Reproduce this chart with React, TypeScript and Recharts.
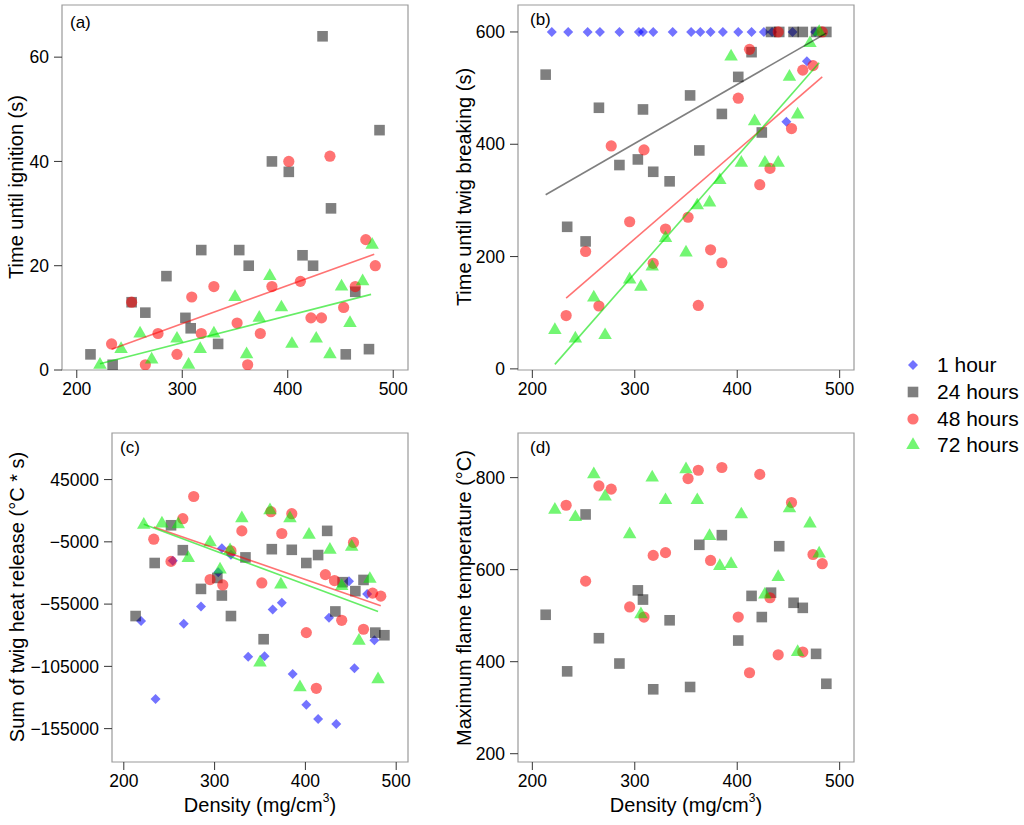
import React from 'react';
import { ScatterChart, Scatter, XAxis, YAxis, ReferenceArea } from 'recharts';

const FONT = '"Liberation Sans", Arial, Helvetica, sans-serif';

// twig density (mg/cm3) for each drying group
const density1h = [219, 235, 254, 266, 285, 304, 308, 318, 337, 355, 364, 374, 386, 401, 414, 426, 434, 448, 454, 468, 476];
const density24h = [213, 234, 252, 265, 285, 303, 308, 318, 334, 354, 363, 385, 401, 414, 424, 433, 441, 455, 464, 477, 487];
const density48h = [233, 252, 265, 277, 295, 309, 318, 330, 352, 362, 374, 385, 401, 412, 422, 432, 440, 453, 464, 474, 483];
const density72h = [222, 242, 260, 271, 295, 306, 317, 330, 350, 361, 373, 383, 394, 404, 417, 427, 440, 451, 459, 471, 480];

// (a) time until ignition (s)
const ignition24h = [3, 1, 13, 11, 18, 10, 8, 23, 5, 23, 20, 40, 38, 22, 20, 64, 31, 3, 15, 4, 46];
const ignition48h = [5, 13, 1, 7, 3, 14, 7, 16, 9, 1, 7, 16, 40, 17, 10, 10, 41, 12, 16, 25, 20];
const ignition72h = [1, 4, 7, 2, 6, 1, 4, 7, 14, 3, 10, 18, 12, 5, null, 6, 3, 16, 9, 17, 24];

// (b) time until twig breaking (s)
const breaking1h = [600, 600, 600, 600, 600, 600, 600, 600, 600, 600, 600, 600, 600, 600, 600, 600, 600, 440, 600, 548, 600];
const breaking24h = [524, 253, 227, 465, 363, 373, 462, 351, 334, 487, 389, 454, 520, 564, 421, 600, 600, 600, 600, 600, 600];
const breaking48h = [95, 209, 112, 397, 262, 390, 188, 249, 270, 113, 212, 189, 482, 569, 328, 357, 600, 428, 532, 540, 600];
const breaking72h = [69, 54, 127, 60, 159, 146, 182, 233, 207, 291, 296, 336, 556, 367, 441, 367, 367, 520, 453, 580, 600];

// (c) sum of twig heat release (°C * s)
const heat1h = [-68600, -131300, -20200, -70700, -56900, -29500, -10100, -15400, -97300, -96800, -59300, -53900, -111100, -135900, -147300, -65900, -151300, -36700, -106600, -46800, -84000];
const heat24h = [-64600, -22000, 8300, -11700, -42800, -34000, -48100, -64600, -17500, -83200, -10900, -11400, -22000, -15600, 3800, -60900, -37400, -44600, -35600, -77900, -80000];
const heat48h = [-2900, -20700, 13600, 31400, -35300, -39600, -12200, 3800, -38000, 19200, 1700, 17600, -77900, -122600, -31300, -36100, -68000, -5500, -75200, -46200, -48600];
const heat72h = [8600, 9600, 9100, -18000, -5500, -27300, -11700, 13900, -102000, 20300, -39300, 13900, -121800, 600, null, -11400, -40600, -9000, -84500, -34800, -115400];

// (d) maximum flame temperature (°C)
const flame24h = [502, 379, 720, 451, 396, 555, 535, 340, 490, 345, 654, 675, 446, 543, 497, 550, 651, 528, 517, 417, 352];
const flame48h = [740, 575, 782, 775, 519, 497, 631, 637, 798, 816, 620, 822, 497, 376, 807, 539, 415, 746, 421, 633, 613];
const flame72h = [730, 714, 807, 759, 677, 503, 800, 751, 818, 751, 673, 608, 612, 720, null, 546, 584, 733, 421, 700, 635];

// fitted lines as drawn in the figure: [density, value] at both ends
const fitIgnition48h = [[233, 4.0], [482, 22.2]];
const fitIgnition72h = [[222, 1.2], [479, 14.5]];
const fitBreaking24h = [[213, 310], [487, 598]];
const fitBreaking48h = [[233, 126], [483, 520]];
const fitBreaking72h = [[222, 8], [480, 545]];
const fitHeat48h = [[233, 7000], [483, -56300]];
const fitHeat72h = [[222, 9100], [480, -61000]];

const densityTicks = [200, 300, 400, 500];
const ignitionTicks = [0, 20, 40, 60];
const breakingTicks = [0, 200, 400, 600];
const heatTicks = [-155000, -105000, -55000, -5000, 45000];
const flameTicks = [200, 400, 600, 800];

type Kind = 'diamond' | 'square' | 'circle' | 'triangle';

const GROUPS: Record<string, { label: string; kind: Kind; color: string; line: string }> = {
  h1: { label: '1 hour', kind: 'diamond', color: 'rgba(0,0,255,0.55)', line: 'rgba(0,0,255,0.55)' },
  h24: { label: '24 hours', kind: 'square', color: 'rgba(0,0,0,0.5)', line: 'rgba(0,0,0,0.5)' },
  h48: { label: '48 hours', kind: 'circle', color: 'rgba(255,0,0,0.55)', line: 'rgba(255,0,0,0.55)' },
  h72: { label: '72 hours', kind: 'triangle', color: 'rgba(0,238,0,0.55)', line: 'rgba(0,225,0,0.6)' },
};

const toPoints = (xs: number[], ys: (number | null)[]) =>
  xs.map((x, i) => ({ x, y: ys[i] })).filter((p) => p.y != null);

const fitPoints = (f: number[][]) => f.map(([x, y]) => ({ x, y }));

const Marker = ({ cx, cy, kind, color }: { cx?: number; cy?: number; kind: Kind; color: string }) => {
  if (cx == null || cy == null) return <g />;
  if (kind === 'diamond') {
    const r = 5;
    return <path d={`M${cx},${cy - r}L${cx + r},${cy}L${cx},${cy + r}L${cx - r},${cy}Z`} fill={color} />;
  }
  if (kind === 'square') {
    const h = 5.3;
    return <rect x={cx - h} y={cy - h} width={2 * h} height={2 * h} fill={color} />;
  }
  if (kind === 'circle') return <circle cx={cx} cy={cy} r={5.6} fill={color} />;
  const r = 7.8;
  return (
    <path
      d={`M${cx},${cy - r}L${cx + r * 0.866},${cy + r / 2}L${cx - r * 0.866},${cy + r / 2}Z`}
      fill={color}
    />
  );
};

const fmt = (v: number) => (v < 0 ? '\u2212' + Math.abs(v) : String(v));

const tickStyle = { fill: '#000', fontSize: 17.5, fontFamily: FONT };

interface PanelProps {
  left: number;
  top: number;
  width: number;
  height: number;
  margin: { top: number; right: number; bottom: number; left: number };
  yWidth: number;
  xHeight: number;
  xDomain: [number, number];
  yDomain: [number, number];
  yTicks: number[];
  series: { group: string; xs: number[]; ys: (number | null)[] }[];
  fits: { group: string; line: number[][] }[];
}

const Panel = ({ left, top, width, height, margin, yWidth, xHeight, xDomain, yDomain, yTicks, series, fits }: PanelProps) => (
  <div style={{ position: 'absolute', left, top }}>
    <ScatterChart width={width} height={height} margin={margin}>
      <XAxis
        type="number"
        dataKey="x"
        domain={xDomain}
        ticks={densityTicks}
        interval={0}
        allowDataOverflow
        height={xHeight}
        tickSize={8}
        tickMargin={5}
        axisLine={false}
        tickLine={{ stroke: '#333' }}
        tick={tickStyle}
      />
      <YAxis
        type="number"
        dataKey="y"
        domain={yDomain}
        ticks={yTicks}
        interval={0}
        allowDataOverflow
        width={yWidth}
        tickSize={8}
        tickMargin={5}
        axisLine={false}
        tickLine={{ stroke: '#333' }}
        tick={tickStyle}
        tickFormatter={fmt}
      />
      <ReferenceArea
        x1={xDomain[0]}
        x2={xDomain[1]}
        y1={yDomain[0]}
        y2={yDomain[1]}
        fill="none"
        fillOpacity={0}
        stroke="#9a9a9a"
        strokeWidth={1.2}
        ifOverflow="visible"
      />
      {series.map((s) => {
        const g = GROUPS[s.group];
        return (
          <Scatter
            key={s.group}
            data={toPoints(s.xs, s.ys)}
            fill={g.color}
            isAnimationActive={false}
            shape={(p: any) => <Marker cx={p.cx} cy={p.cy} kind={g.kind} color={g.color} />}
          />
        );
      })}
      {fits.map((f) => {
        const g = GROUPS[f.group];
        return (
          <Scatter
            key={'fit' + f.group}
            data={fitPoints(f.line)}
            fill={g.line}
            line={{ stroke: g.line, strokeWidth: 1.6 }}
            isAnimationActive={false}
            shape={() => <g />}
          />
        );
      })}
    </ScatterChart>
  </div>
);

const YTitle = ({ x, y, children }: { x: number; y: number; children: React.ReactNode }) => (
  <div
    style={{
      position: 'absolute',
      left: x,
      top: y,
      transform: 'translate(-50%, -50%) rotate(-90deg)',
      whiteSpace: 'nowrap',
      fontSize: 20,
      lineHeight: '22px',
      fontFamily: FONT,
      color: '#000',
    }}
  >
    {children}
  </div>
);

const XTitle = ({ x, y }: { x: number; y: number }) => (
  <div
    style={{
      position: 'absolute',
      left: x,
      top: y,
      transform: 'translate(-50%, -50%)',
      whiteSpace: 'nowrap',
      fontSize: 20,
      lineHeight: '22px',
      fontFamily: FONT,
      color: '#000',
    }}
  >
    Density (mg/cm<span style={{ fontSize: 12, position: 'relative', top: -10 }}>3</span>)
  </div>
);

const Tag = ({ x, y, text }: { x: number; y: number; text: string }) => (
  <div
    style={{
      position: 'absolute',
      left: x,
      top: y,
      transform: 'translateY(-50%)',
      fontSize: 17,
      lineHeight: '19px',
      fontFamily: FONT,
      color: '#000',
    }}
  >
    {text}
  </div>
);

const legendRows = ['h1', 'h24', 'h48', 'h72'];

export default function App() {
  return (
    <div
      style={{
        position: 'absolute',
        left: 0,
        top: 0,
        width: 1024,
        height: 825,
        background: '#fff',
        fontFamily: FONT,
      }}
    >
      <Panel
        left={0}
        top={0}
        width={420}
        height={410}
        margin={{ top: 5, right: 12, bottom: 0, left: 0 }}
        yWidth={62}
        xHeight={40}
        xDomain={[186, 514]}
        yDomain={[0, 70]}
        yTicks={ignitionTicks}
        series={[
          { group: 'h24', xs: density24h, ys: ignition24h },
          { group: 'h48', xs: density48h, ys: ignition48h },
          { group: 'h72', xs: density72h, ys: ignition72h },
        ]}
        fits={[
          { group: 'h48', line: fitIgnition48h },
          { group: 'h72', line: fitIgnition72h },
        ]}
      />
      <Panel
        left={420}
        top={0}
        width={440}
        height={410}
        margin={{ top: 5, right: 6, bottom: 0, left: 0 }}
        yWidth={98}
        xHeight={40}
        xDomain={[186, 514]}
        yDomain={[-2, 648]}
        yTicks={breakingTicks}
        series={[
          { group: 'h1', xs: density1h, ys: breaking1h },
          { group: 'h24', xs: density24h, ys: breaking24h },
          { group: 'h48', xs: density48h, ys: breaking48h },
          { group: 'h72', xs: density72h, ys: breaking72h },
        ]}
        fits={[
          { group: 'h24', line: fitBreaking24h },
          { group: 'h48', line: fitBreaking48h },
          { group: 'h72', line: fitBreaking72h },
        ]}
      />
      <Panel
        left={0}
        top={420}
        width={420}
        height={405}
        margin={{ top: 13, right: 12, bottom: 0, left: 0 }}
        yWidth={112}
        xHeight={63}
        xDomain={[187, 513]}
        yDomain={[-181800, 82400]}
        yTicks={heatTicks}
        series={[
          { group: 'h1', xs: density1h, ys: heat1h },
          { group: 'h24', xs: density24h, ys: heat24h },
          { group: 'h48', xs: density48h, ys: heat48h },
          { group: 'h72', xs: density72h, ys: heat72h },
        ]}
        fits={[
          { group: 'h48', line: fitHeat48h },
          { group: 'h72', line: fitHeat72h },
        ]}
      />
      <Panel
        left={420}
        top={420}
        width={440}
        height={405}
        margin={{ top: 13, right: 6, bottom: 0, left: 0 }}
        yWidth={98}
        xHeight={63}
        xDomain={[186, 514]}
        yDomain={[182, 897]}
        yTicks={flameTicks}
        series={[
          { group: 'h24', xs: density24h, ys: flame24h },
          { group: 'h48', xs: density48h, ys: flame48h },
          { group: 'h72', xs: density72h, ys: flame72h },
        ]}
        fits={[]}
      />

      <YTitle x={16} y={187}>Time until ignition (s)</YTitle>
      <YTitle x={464} y={187}>Time until twig breaking (s)</YTitle>
      <YTitle x={17} y={597}>Sum of twig heat release (°C * s)</YTitle>
      <YTitle x={464} y={598}>Maximum flame temperature (°C)</YTitle>
      <XTitle x={260} y={806} />
      <XTitle x={686} y={806} />

      <Tag x={70} y={22} text="(a)" />
      <Tag x={530} y={18.5} text="(b)" />
      <Tag x={120} y={447} text="(c)" />
      <Tag x={530} y={447} text="(d)" />

      <div style={{ position: 'absolute', left: 902, top: 352 }}>
        {legendRows.map((k) => {
          const g = GROUPS[k];
          return (
            <div key={k} style={{ display: 'flex', alignItems: 'center', height: 26.7 }}>
              <svg width={22} height={22}>
                <Marker cx={11} cy={11} kind={g.kind} color={g.color} />
              </svg>
              <span style={{ marginLeft: 13, fontSize: 21, color: '#000', whiteSpace: 'nowrap' }}>{g.label}</span>
            </div>
          );
        })}
      </div>
    </div>
  );
}
